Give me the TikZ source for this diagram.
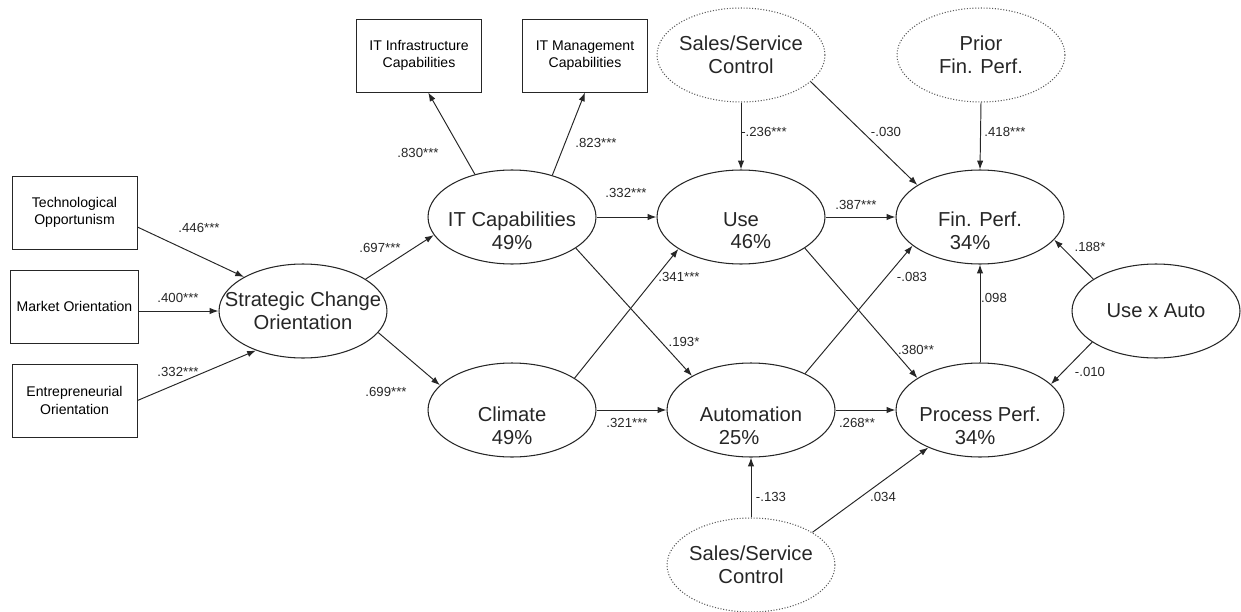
\documentclass[tikz,border=0pt]{standalone}
\usepackage{fontspec}
\setmainfont{Liberation Sans}
\usepackage{tikz}
\usetikzlibrary{shapes.geometric, arrows.meta}
\tikzstyle{indicator} = [rectangle, minimum width=2.5cm, minimum height=1.46cm, text centered, align=center, draw=black!85, line width=0.55pt, font=\fontsize{8}{9.8}\selectfont]
\tikzstyle{latent} = [ellipse, minimum width=3.36cm, minimum height=1.88cm, inner sep=0pt, draw=black!85, line width=0.6pt]
\tikzstyle{control} = [latent, draw=black!65, densely dotted]
\tikzstyle{ltext} = [align=center, font=\fontsize{11.5}{12.8}\selectfont, text=black!85]
\tikzstyle{rsq} = [ltext, yshift=-7.8pt]
\tikzstyle{arrow} = [line width=0.55pt, draw=black!85, -{Latex[length=5pt,width=3.6pt]}]
\tikzstyle{coef} = [font=\fontsize{7.5}{9}\selectfont, inner sep=1pt, text=black!85]

\begin{document}
\begin{tikzpicture}[x=0.02cm, y=-0.02cm]
	\useasboundingbox (0,0) rectangle (1241,612);
	
	\node (techopp) [indicator] at (74.5,212.5) {Technological\\Opportunism};
	\node (mktor) [indicator] at (74.5,306.5) {Market Orientation};
	\node (entor) [indicator] at (74.5,400.5) {Entrepreneurial\\Orientation};
	\node (itinfra) [indicator] at (419,55.5) {IT Infrastructure\\Capabilities};
	\node (itmgmt) [indicator] at (585,55.5) {IT Management\\Capabilities};
	
	\node (sco) [latent, label={[ltext]center:Strategic Change\\Orientation}] at (303,311) {};
	\node (itcap) [latent, label={[rsq]center:IT Capabilities\\49\%}] at (512,217) {};
	\node (climate) [latent, label={[rsq, yshift=-1.2pt]center:Climate\\49\%}] at (512,410) {};
	\node (use) [latent, label={[rsq]center:Use\\\hspace*{11.3pt}46\%}] at (741,217) {};
	\node (auto) [latent, label={[rsq, yshift=-1.2pt]center:Automation\\\hspace*{-13.6pt}25\%}] at (751,410) {};
	\node (finperf) [latent, label={[rsq]center:Fin. Perf.\\\hspace*{-11.3pt}34\%}] at (980,217) {};
	\node (procperf) [latent, label={[rsq, yshift=-1.2pt]center:Process Perf.\\\hspace*{-5.7pt}34\%}] at (980,410) {};
	\node (useauto) [latent, label={[ltext]center:Use x Auto}] at (1156,311) {};
	
	\node (salestop) [control, label={[ltext]center:Sales/Service\\Control}] at (741,55) {};
	\node (priorfin) [control, label={[ltext]center:Prior\\Fin. Perf.}] at (981,55) {};
	\node (salesbot) [control, label={[ltext]center:Sales/Service\\Control}] at (751,565) {};
	
	\draw [arrow] (techopp.-13) -- (sco.150);
	\draw [arrow] (mktor.east |- sco.west) -- (sco.west);
	\draw [arrow] (entor.east) -- (sco.-140);
	
	\draw [arrow] (sco.27) -- (itcap.193);
	\draw [arrow] (sco.-16) -- (climate.161);
	\draw [arrow] (itcap.131) -- (itinfra.-76);
	\draw [arrow] (itcap.46) -- (itmgmt.south);
	
	\draw [arrow] (itcap.east) -- (use.west);
	\draw [arrow] (itcap.-26) -- (auto.150);
	\draw [arrow] (climate.27) -- (use.207);
	\draw [arrow] (climate.east) -- (auto.west);
	
	\draw [arrow] (use.east) -- (finperf.west);
	\draw [arrow] (use.-26) -- (procperf.153);
	\draw [arrow] (auto.34) -- (finperf.203);
	\draw [arrow] (auto.east) -- (procperf.west);
	\draw [arrow] (procperf.north) -- (finperf.south);
	\draw [arrow] (useauto.153) -- (finperf.-17);
	\draw [arrow] (useauto.206) -- (procperf.20);
	
	\draw [arrow] (salestop.south) -- (use.north);
	\draw [arrow] (salestop.-21) -- (finperf.153);
	\draw [arrow] (priorfin.south) -- (finperf.north);
	\draw [arrow] (salesbot.north) -- (auto.south);
	\draw [arrow] (salesbot.28) -- (procperf.216);
	
	\node (b1) [coef] at (199,228) {.446***};
	\node (b2) [coef] at (178,298) {.400***};
	\node (b3) [coef] at (178,372) {.332***};
	\node (b4) [coef] at (380,248) {.697***};
	\node (b5) [coef] at (386,392) {.699***};
	\node (b6) [coef] at (418,153) {.830***};
	\node (b7) [coef] at (596,143) {.823***};
	\node (b8) [coef] at (626,193) {.332***};
	\node (b9) [coef] at (679,277) {.341***};
	\node (b10) [coef] at (684,342) {.193*};
	\node (b11) [coef] at (627,423) {.321***};
	\node (b12) [coef] at (856,205) {.387***};
	\node (b13) [coef] at (912,277) {-.083};
	\node (b14) [coef] at (916,350) {.380**};
	\node (b15) [coef] at (857,423) {.268**};
	\node (b16) [coef] at (1090,247) {.188*};
	\node (b17) [coef] at (994,298) {.098};
	\node (b18) [coef] at (1090,372) {-.010};
	\node (b19) [coef] at (764,132) {-.236***};
	\node (b20) [coef] at (886,132) {-.030};
	\node (b21) [coef] at (1005,132) {.418***};
	\node (b22) [coef] at (771,497) {-.133};
	\node (b23) [coef] at (883,497) {.034};
	
\end{tikzpicture}
\end{document}
